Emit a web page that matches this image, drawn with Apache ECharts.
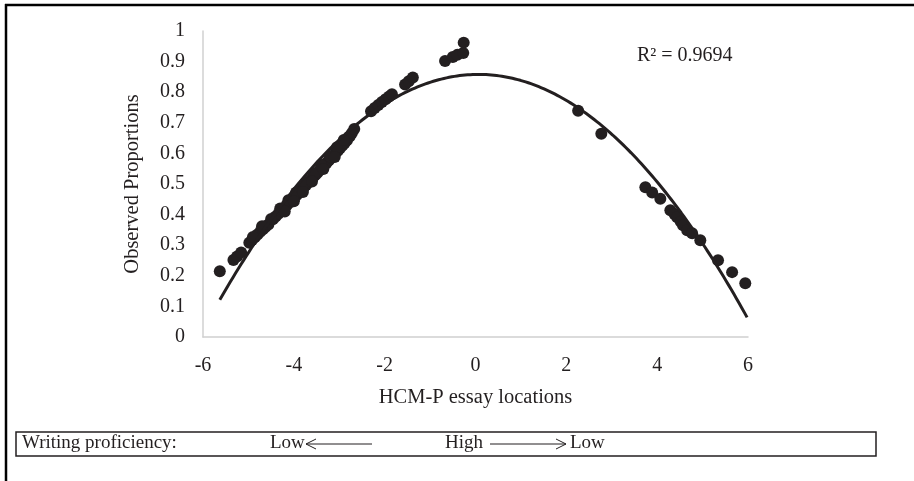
<!DOCTYPE html>
<html>
<head>
<meta charset="utf-8">
<script src="https://cdn.jsdelivr.net/npm/echarts@6/dist/echarts.min.js"></script>
<style>
html,body{margin:0;padding:0;background:#fff;}
#chart{width:914px;height:481px;}
</style>
</head>
<body>
<div id="chart"></div>
<script>
// Observed points: [HCM-P essay location, observed proportion]
const leftPoints = [
  [-5.63,0.215],[-5.33,0.252],[-5.25,0.263],[-5.16,0.276],
  [-4.98,0.308],[-4.92,0.317],[-4.86,0.326],[-4.80,0.335],[-4.74,0.344],[-4.68,0.352],[-4.62,0.360],[-4.56,0.368],
  [-4.46,0.385],[-4.40,0.394],[-4.34,0.403],[-4.28,0.412],[-4.22,0.421],[-4.16,0.430],[-4.10,0.439],[-4.04,0.448],
  [-3.98,0.457],[-3.93,0.465],[-3.88,0.473],[-3.83,0.481],[-3.78,0.489],[-3.73,0.497],[-3.68,0.505],[-3.63,0.513],
  [-3.58,0.521],[-3.53,0.529],[-3.48,0.537],[-3.43,0.545],[-3.38,0.553],[-3.33,0.561],[-3.28,0.569],[-3.23,0.577],
  [-3.18,0.585],[-3.13,0.593],[-3.08,0.601],[-3.03,0.609],[-2.98,0.618],[-2.93,0.626],[-2.88,0.634],[-2.83,0.643],
  [-2.77,0.655],[-2.72,0.667],[-2.67,0.680],
  [-4.90,0.327],[-4.70,0.362],[-4.50,0.386],[-4.30,0.420],[-4.12,0.447],[-3.95,0.472],[-3.75,0.503],[-3.55,0.535],
  [-3.40,0.562],[-3.20,0.590],[-3.05,0.620],[-2.90,0.644],
  [-4.20,0.410],[-4.00,0.444],[-3.80,0.474],[-3.60,0.508],[-3.35,0.549],[-3.10,0.588],
  [-2.30,0.738],[-2.22,0.748],[-2.14,0.758],[-2.06,0.768],[-1.98,0.777],[-1.90,0.786],[-1.84,0.793],
  [-1.55,0.825],[-1.47,0.836],[-1.38,0.848],
  [-0.67,0.902],[-0.50,0.915],[-0.40,0.922],[-0.27,0.928],[-0.26,0.962]
];
const rightPoints = [
  [2.26,0.739],[2.77,0.664],
  [3.74,0.489],[3.89,0.472],[4.07,0.452],[4.29,0.414],[4.38,0.402],[4.44,0.391],[4.52,0.377],
  [4.57,0.365],[4.66,0.349],[4.77,0.339],[4.95,0.316],[5.34,0.251],[5.65,0.212],[5.94,0.176]
];
// Polynomial (order 2) trendline: y = a*x^2 + b*x + c
const trendCoefficients = [-0.0227, 0.003, 0.858];
const trendRange = [-5.63, 5.98];
const rSquaredText = 'R² = 0.9694';
const xTicks = [-6, 6, 2];
const yTicks = [0, 1, 0.1];

const trendLine = [];
for (let i = 0; i <= 200; i++) {
  const x = trendRange[0] + (trendRange[1] - trendRange[0]) * i / 200;
  const [a, b, c] = trendCoefficients;
  trendLine.push([x, a * x * x + b * x + c]);
}

const FONT = 'Liberation Serif';
const INK = '#231f20';
const chart = echarts.init(document.getElementById('chart'), null, {renderer: 'canvas'});
chart.setOption({
  animation: false,
  backgroundColor: '#fff',
  grid: {left: 203, right: 166, top: 31, bottom: 144, containLabel: false},
  xAxis: {
    type: 'value', min: xTicks[0], max: xTicks[1], interval: xTicks[2],
    name: 'HCM-P essay locations', nameLocation: 'middle', nameGap: 50,
    nameTextStyle: {fontFamily: FONT, fontSize: 20.5, color: INK},
    axisLine: {show: true, onZero: false, lineStyle: {color: '#d0d0d0', width: 1.5}},
    axisTick: {show: false},
    splitLine: {show: false},
    axisLabel: {fontFamily: FONT, fontSize: 20, color: INK, margin: 19}
  },
  yAxis: {
    type: 'value', min: yTicks[0], max: yTicks[1], interval: yTicks[2],
    name: 'Observed Proportions', nameLocation: 'middle', nameGap: 60,
    nameTextStyle: {fontFamily: FONT, fontSize: 20.5, color: INK},
    axisLine: {show: true, onZero: false, lineStyle: {color: '#d0d0d0', width: 1.5}},
    axisTick: {show: false},
    splitLine: {show: false},
    axisLabel: {fontFamily: FONT, fontSize: 20, color: INK, margin: 18,
      formatter: v => String(Math.round(v * 10) / 10)}
  },
  series: [
    {type: 'scatter', data: leftPoints.concat(rightPoints), symbolSize: 12,
     itemStyle: {color: INK, opacity: 1}, z: 3},
    {type: 'line', data: trendLine, showSymbol: false, smooth: false,
     lineStyle: {color: INK, width: 3}, z: 4}
  ],
  graphic: [
    {type: 'line', shape: {x1: 5, y1: 5, x2: 914, y2: 5}, style: {stroke: '#000', lineWidth: 2.5}},
    {type: 'line', shape: {x1: 6, y1: 4, x2: 6, y2: 481}, style: {stroke: '#000', lineWidth: 2.5}},
    {type: 'text', left: 637, top: 46, style: {text: rSquaredText, font: '20px "Liberation Serif"', fill: INK}},
    {type: 'rect', shape: {x: 16, y: 432, width: 860, height: 24}, style: {fill: 'none', stroke: INK, lineWidth: 1.5}},
    {type: 'text', left: 22, top: 434, style: {text: 'Writing proficiency:', font: '19px "Liberation Serif"', fill: INK}},
    {type: 'text', left: 270, top: 434, style: {text: 'Low', font: '19px "Liberation Serif"', fill: INK}},
    {type: 'polyline', shape: {points: [[316, 439], [306, 444], [316, 449]]}, style: {stroke: INK, fill: 'none', lineWidth: 1}},
    {type: 'line', shape: {x1: 306, y1: 444, x2: 372, y2: 444}, style: {stroke: INK, lineWidth: 1}},
    {type: 'text', left: 445, top: 434, style: {text: 'High', font: '19px "Liberation Serif"', fill: INK}},
    {type: 'line', shape: {x1: 490, y1: 444, x2: 566, y2: 444}, style: {stroke: INK, lineWidth: 1}},
    {type: 'polyline', shape: {points: [[556, 439], [566, 444], [556, 449]]}, style: {stroke: INK, fill: 'none', lineWidth: 1}},
    {type: 'text', left: 570, top: 434, style: {text: 'Low', font: '19px "Liberation Serif"', fill: INK}}
  ]
});
</script>
</body>
</html>
